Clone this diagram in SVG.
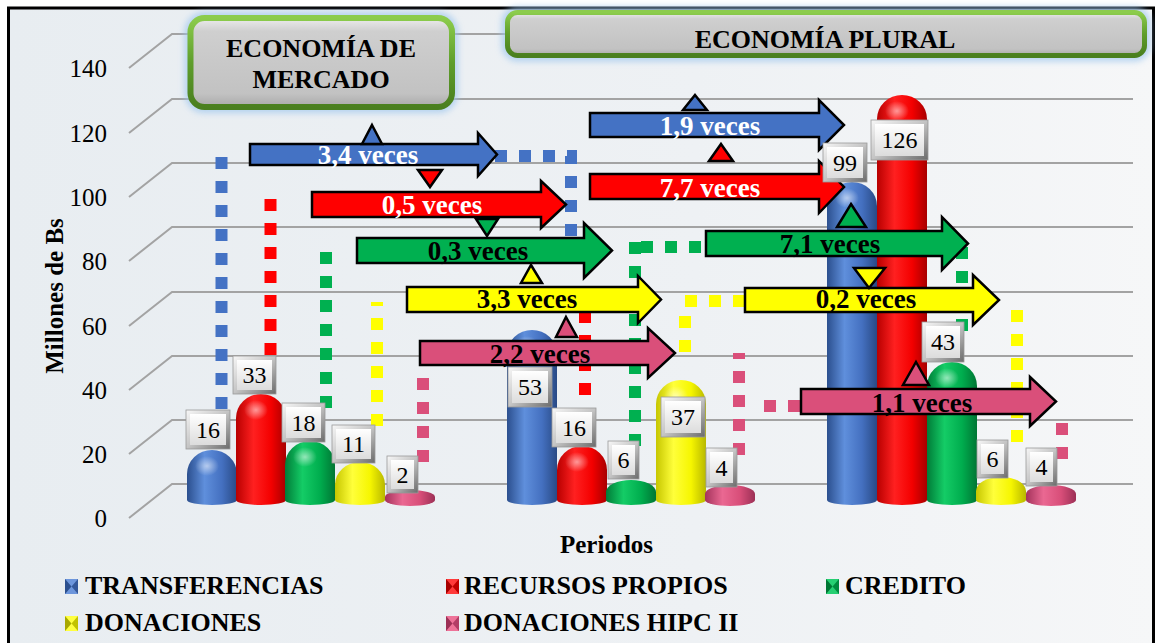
<svg xmlns="http://www.w3.org/2000/svg" width="1160" height="643" viewBox="0 0 1160 643">
<defs>
<linearGradient id="bg" x1="0" y1="0" x2="1" y2="0"><stop offset="0" stop-color="#e8edf1"/><stop offset="0.6" stop-color="#eef1f4"/><stop offset="1" stop-color="#f6f7f8"/></linearGradient>
<linearGradient id="gBlue" x1="0" y1="0" x2="1" y2="0"><stop offset="0" stop-color="#2b4f8e"/><stop offset="0.35" stop-color="#5f8fdc"/><stop offset="0.7" stop-color="#4470c0"/><stop offset="1" stop-color="#294a85"/></linearGradient>
<linearGradient id="gRed" x1="0" y1="0" x2="1" y2="0"><stop offset="0" stop-color="#b80000"/><stop offset="0.35" stop-color="#ff2020"/><stop offset="0.7" stop-color="#f40000"/><stop offset="1" stop-color="#a80000"/></linearGradient>
<linearGradient id="gGreen" x1="0" y1="0" x2="1" y2="0"><stop offset="0" stop-color="#007c38"/><stop offset="0.35" stop-color="#14cc66"/><stop offset="0.7" stop-color="#00ad4e"/><stop offset="1" stop-color="#007634"/></linearGradient>
<linearGradient id="gYellow" x1="0" y1="0" x2="1" y2="0"><stop offset="0" stop-color="#c6c600"/><stop offset="0.35" stop-color="#ffff3a"/><stop offset="0.7" stop-color="#f6f600"/><stop offset="1" stop-color="#b8b800"/></linearGradient>
<linearGradient id="gPink" x1="0" y1="0" x2="1" y2="0"><stop offset="0" stop-color="#a4335c"/><stop offset="0.35" stop-color="#ea6892"/><stop offset="0.7" stop-color="#d84e79"/><stop offset="1" stop-color="#9c3056"/></linearGradient>
<radialGradient id="hl"><stop offset="0" stop-color="#ffffff" stop-opacity="0.55"/><stop offset="1" stop-color="#ffffff" stop-opacity="0"/></radialGradient>
<linearGradient id="bevel" x1="0" y1="0" x2="1" y2="1"><stop offset="0" stop-color="#f7f7f7"/><stop offset="0.5" stop-color="#c4c4c4"/><stop offset="1" stop-color="#6a6a6a"/></linearGradient>
<linearGradient id="face" x1="0" y1="0" x2="0" y2="1"><stop offset="0" stop-color="#ffffff"/><stop offset="1" stop-color="#dcdcdc"/></linearGradient>
<linearGradient id="titleFill" x1="0" y1="0" x2="0" y2="1"><stop offset="0" stop-color="#ececec"/><stop offset="0.15" stop-color="#cfcfcf"/><stop offset="0.85" stop-color="#c2c2c2"/><stop offset="1" stop-color="#a9a9a9"/></linearGradient>
<linearGradient id="titleStroke" x1="0" y1="0" x2="0" y2="1"><stop offset="0" stop-color="#8ccc4c"/><stop offset="0.5" stop-color="#5f9e2c"/><stop offset="1" stop-color="#4a7f1f"/></linearGradient>
<filter id="glow" x="-10%" y="-30%" width="120%" height="160%"><feGaussianBlur stdDeviation="3"/></filter>
</defs>
<style>
.grid{stroke:#a3a3a3;stroke-width:2;fill:none}
.ytick{font-family:'Liberation Serif',serif;font-size:25px;fill:#000;text-anchor:end}
.axt{font-family:'Liberation Serif',serif;font-size:25px;font-weight:bold;fill:#000;text-anchor:middle}
.dot{fill:none;stroke-width:12;stroke-dasharray:12 12}
.dB{stroke:#4472c4}.dR{stroke:#ff0000}.dG{stroke:#00b050}.dY{stroke:#ffff00}.dP{stroke:#da4f7a}
.arr{stroke:#000;stroke-width:2.5;stroke-linejoin:miter}
.tri{stroke:#000;stroke-width:2.5;stroke-linejoin:miter}
.fB{fill:#4472c4}.fR{fill:#ff0000}.fG{fill:#00b050}.fY{fill:#ffff00}.fP{fill:#da4f7a}
.av{font-family:'Liberation Serif',serif;font-size:27px;font-weight:bold;text-anchor:middle}
.w{fill:#ffffff}.k{fill:#000000}
.lb{fill:url(#bevel);stroke:#9a9a9a;stroke-width:0.8}
.lf{fill:url(#face)}
.lt{font-family:'Liberation Serif',serif;font-size:24px;fill:#000;text-anchor:middle}
.ttl{font-family:'Liberation Serif',serif;font-size:26px;font-weight:bold;fill:#000;text-anchor:middle}
.leg{font-family:'Liberation Serif',serif;font-size:26px;font-weight:bold;fill:#000}
.hl{fill:url(#hl)}
</style>

<rect x="0" y="0" width="1160" height="643" fill="#ffffff"/>
<rect id="frame" x="8.5" y="8" width="1145" height="650" fill="url(#bg)" stroke="#000" stroke-width="3"/>

<g id="gridlines">
<path class="grid" d="M129,68 L172,34 H1133"/>
<path class="grid" d="M129,133 L172,99 H1133"/>
<path class="grid" d="M129,197 L172,163 H1133"/>
<path class="grid" d="M129,261 L172,227 H1133"/>
<path class="grid" d="M129,326 L172,292 H1133"/>
<path class="grid" d="M129,390 L172,356 H1133"/>
<path class="grid" d="M129,454 L172,420 H1133"/>
<path class="grid" d="M129,518 L172,484 H1133"/>
</g>

<g id="y-axis">
<text class="ytick" x="107" y="77">140</text>
<text class="ytick" x="107" y="142">120</text>
<text class="ytick" x="107" y="206">100</text>
<text class="ytick" x="107" y="270">80</text>
<text class="ytick" x="107" y="335">60</text>
<text class="ytick" x="107" y="399">40</text>
<text class="ytick" x="107" y="463">20</text>
<text class="ytick" x="107" y="527">0</text>
<text class="axt" transform="translate(63,296) rotate(-90)">Millones de Bs</text>
</g>

<g id="connectors">
<line class="dot dB" x1="221.5" y1="157" x2="221.5" y2="412"/>
<line class="dot dR" x1="270.5" y1="199" x2="270.5" y2="355"/>
<line class="dot dG" x1="326" y1="252" x2="326" y2="409"/>
<line class="dot dY" x1="377" y1="302" x2="377" y2="427" stroke-dashoffset="8"/>
<line class="dot dP" x1="423" y1="378" x2="423" y2="462"/>
<path class="dot dB" d="M495,156 H571 V236"/>
<line class="dot dR" x1="585" y1="311" x2="585" y2="396"/>
<line class="dot dG" x1="641" y1="247" x2="701" y2="247"/>
<line class="dot dG" x1="635" y1="242" x2="635" y2="447"/>
<line class="dot dY" x1="745" y1="301" x2="679" y2="301"/>
<line class="dot dY" x1="685" y1="316" x2="685" y2="353"/>
<line class="dot dP" x1="739" y1="353" x2="739" y2="457" stroke-dashoffset="6"/>
<line class="dot dP" x1="764" y1="406" x2="801" y2="406"/>
<line class="dot dG" x1="962" y1="247" x2="962" y2="332"/>
<line class="dot dY" x1="1017" y1="310" x2="1017" y2="444"/>
<line class="dot dP" x1="1062" y1="423" x2="1062" y2="459"/>
</g>

<g id="bars-mercado">
<path fill="url(#gBlue)" d="M187,500 V474 A25 24 0 0 1 237,474 V500 A25 5 0 0 1 187,500 Z"/>
<ellipse class="hl" cx="207" cy="466" rx="12" ry="10"/>
<path fill="url(#gRed)" d="M236,500 V418 A25 24 0 0 1 286,418 V500 A25 5 0 0 1 236,500 Z"/>
<ellipse class="hl" cx="256" cy="410" rx="12" ry="10"/>
<path fill="url(#gGreen)" d="M285,500 V465 A25 24 0 0 1 335,465 V500 A25 5 0 0 1 285,500 Z"/>
<ellipse class="hl" cx="305" cy="457" rx="12" ry="10"/>
<path fill="url(#gYellow)" d="M335,500 V484.8 A25 22.8 0 0 1 385,484.8 V500 A25 5 0 0 1 335,500 Z"/>
<path fill="url(#gPink)" d="M385,500 V497 A25 7 0 0 1 435,497 V500 A25 6 0 0 1 385,500 Z"/>
</g>
<g id="bars-plural-1">
<path fill="url(#gBlue)" d="M507,500 V354 A25 24 0 0 1 557,354 V500 A25 5 0 0 1 507,500 Z"/>
<ellipse class="hl" cx="527" cy="346" rx="12" ry="10"/>
<path fill="url(#gRed)" d="M557,500 V470 A25 24 0 0 1 607,470 V500 A25 5 0 0 1 557,500 Z"/>
<ellipse class="hl" cx="577" cy="462" rx="12" ry="10"/>
<path fill="url(#gGreen)" d="M606,500 V492 A25 12 0 0 1 656,492 V500 A25 5 0 0 1 606,500 Z"/>
<path fill="url(#gYellow)" d="M656,500 V404 A25 24 0 0 1 706,404 V500 A25 5 0 0 1 656,500 Z"/>
<ellipse class="hl" cx="676" cy="396" rx="12" ry="10"/>
<path fill="url(#gPink)" d="M705,500 V494 A25 9 0 0 1 755,494 V500 A25 6 0 0 1 705,500 Z"/>
</g>
<g id="bars-plural-2">
<path fill="url(#gBlue)" d="M827,500 V206 A25 24 0 0 1 877,206 V500 A25 5 0 0 1 827,500 Z"/>
<ellipse class="hl" cx="847" cy="198" rx="12" ry="10"/>
<path fill="url(#gRed)" d="M877,500 V119 A25 24 0 0 1 927,119 V500 A25 5 0 0 1 877,500 Z"/>
<ellipse class="hl" cx="897" cy="111" rx="12" ry="10"/>
<path fill="url(#gGreen)" d="M927,500 V386 A25 24 0 0 1 977,386 V500 A25 5 0 0 1 927,500 Z"/>
<ellipse class="hl" cx="947" cy="378" rx="12" ry="10"/>
<path fill="url(#gYellow)" d="M976,500 V491 A25 14 0 0 1 1026,491 V500 A25 5 0 0 1 976,500 Z"/>
<path fill="url(#gPink)" d="M1026,500 V494 A25 9 0 0 1 1076,494 V500 A25 6 0 0 1 1026,500 Z"/>
</g>

<g id="arrow-transferencias-1">
<path class="arr fB" d="M250,144 H478 V133 L497,154.5 L478,176 V165 H250 Z"/>
<text class="av w" x="368" y="164">3,4 veces</text>
<polygon class="tri fB" points="372,125 382,144 362,144"/>
</g>
<g id="arrow-recursos-1">
<path class="arr fR" d="M312,192 H541 V181 L566,204.5 L541,228 V217 H312 Z"/>
<text class="av w" x="432" y="214">0,5 veces</text>
<polygon class="tri fR" points="418,170 442,170 430,187"/>
</g>
<g id="arrow-credito-1">
<path class="arr fG" d="M357,238 H584 V223 L612,250.5 L584,278 V263 H357 Z"/>
<text class="av k" x="478" y="260">0,3 veces</text>
<polygon class="tri fG" points="476,219 498,219 487,236"/>
</g>
<g id="arrow-donaciones-1">
<path class="arr fY" d="M407,287 H638 V276 L661,299.5 L638,323 V312 H407 Z"/>
<text class="av k" x="527" y="308">3,3 veces</text>
<polygon class="tri fY" points="531,265 542,283 521,283"/>
</g>
<g id="arrow-hipc-1">
<path class="arr fP" d="M420,341 H648 V328 L675,353 L648,378 V365 H420 Z"/>
<text class="av k" x="540" y="363">2,2 veces</text>
<polygon class="tri fP" points="566,317 577,337 556,337"/>
</g>
<g id="arrow-transferencias-2">
<path class="arr fB" d="M590,113 H819 V100 L844,125 L819,150 V137 H590 Z"/>
<text class="av w" x="710" y="135">1,9 veces</text>
<polygon class="tri fB" points="695,95 707,110 683,110"/>
</g>
<g id="arrow-recursos-2">
<path class="arr fR" d="M590,174 H819 V161 L844,187 L819,213 V199 H590 Z"/>
<text class="av w" x="710" y="197">7,7 veces</text>
<polygon class="tri fR" points="721,144 733,161 709,161"/>
</g>
<g id="arrow-credito-2">
<path class="arr fG" d="M706,231 H942 V217 L968,243.5 L942,270 V256 H706 Z"/>
<text class="av k" x="830" y="253">7,1 veces</text>
<polygon class="tri fG" points="851,204 866,227 837,227"/>
</g>
<g id="arrow-donaciones-2">
<path class="arr fY" d="M745,288 H973 V275 L999,300 L973,325 V312 H745 Z"/>
<text class="av k" x="866" y="308">0,2 veces</text>
<polygon class="tri fY" points="854,268 885,268 869,288"/>
</g>
<g id="arrow-hipc-2">
<path class="arr fP" d="M801,389 H1030 V377 L1056,401.5 L1030,426 V414 H801 Z"/>
<text class="av k" x="922" y="412">1,1 veces</text>
<polygon class="tri fP" points="916,362 929,385 903,385"/>
</g>

<g id="value-labels">
<g><rect class="lb" x="186" y="410" width="44" height="39"/><rect class="lf" x="190" y="414" width="36" height="31"/><text class="lt" x="208" y="438">16</text></g>
<g><rect class="lb" x="233" y="356" width="43" height="38"/><rect class="lf" x="237" y="360" width="35" height="30"/><text class="lt" x="254.5" y="383">33</text></g>
<g><rect class="lb" x="282" y="403" width="43" height="39"/><rect class="lf" x="286" y="407" width="35" height="31"/><text class="lt" x="303.5" y="431">18</text></g>
<g><rect class="lb" x="332" y="425" width="43" height="38"/><rect class="lf" x="336" y="429" width="35" height="30"/><text class="lt" x="353.5" y="452">11</text></g>
<g><rect class="lb" x="387" y="456" width="31" height="37"/><rect class="lf" x="391" y="460" width="23" height="29"/><text class="lt" x="402.5" y="483">2</text></g>
<g><rect class="lb" x="508" y="367" width="44" height="40"/><rect class="lf" x="512" y="371" width="36" height="32"/><text class="lt" x="530" y="395">53</text></g>
<g><rect class="lb" x="552" y="408" width="44" height="39"/><rect class="lf" x="556" y="412" width="36" height="31"/><text class="lt" x="574" y="436">16</text></g>
<g><rect class="lb" x="608" y="441" width="31" height="38"/><rect class="lf" x="612" y="445" width="23" height="30"/><text class="lt" x="623.5" y="468">6</text></g>
<g><rect class="lb" x="661" y="397" width="44" height="40"/><rect class="lf" x="665" y="401" width="36" height="32"/><text class="lt" x="683" y="425">37</text></g>
<g><rect class="lb" x="706" y="448" width="31" height="39"/><rect class="lf" x="710" y="452" width="23" height="31"/><text class="lt" x="721.5" y="476">4</text></g>
<g><rect class="lb" x="823" y="143" width="44" height="39"/><rect class="lf" x="827" y="147" width="36" height="31"/><text class="lt" x="845" y="171">99</text></g>
<g><rect class="lb" x="871" y="120" width="57" height="40"/><rect class="lf" x="875" y="124" width="49" height="32"/><text class="lt" x="899.5" y="148">126</text></g>
<g><rect class="lb" x="922" y="322" width="42" height="40"/><rect class="lf" x="926" y="326" width="34" height="32"/><text class="lt" x="943" y="350">43</text></g>
<g><rect class="lb" x="977" y="440" width="31" height="38"/><rect class="lf" x="981" y="444" width="23" height="30"/><text class="lt" x="992.5" y="467">6</text></g>
<g><rect class="lb" x="1026" y="448" width="31" height="38"/><rect class="lf" x="1030" y="452" width="23" height="30"/><text class="lt" x="1041.5" y="475">4</text></g>
</g>

<g id="title-mercado">
<rect x="190.5" y="18" width="261.5" height="89" rx="14" fill="none" stroke="#9dc6ee" stroke-width="12" opacity="0.7" filter="url(#glow)"/>
<rect x="190.5" y="18" width="261.5" height="89" rx="14" fill="url(#titleFill)" stroke="url(#titleStroke)" stroke-width="6"/>
<text class="ttl" x="321" y="57">ECONOMÍA DE</text>
<text class="ttl" x="321" y="88">MERCADO</text>
</g>
<g id="title-plural">
<rect x="507.5" y="12.5" width="637" height="43" rx="10" fill="none" stroke="#9dc6ee" stroke-width="12" opacity="0.7" filter="url(#glow)"/>
<rect x="507.5" y="12.5" width="637" height="43" rx="10" fill="url(#titleFill)" stroke="url(#titleStroke)" stroke-width="5"/>
<text class="ttl" x="825" y="48">ECONOMÍA PLURAL</text>
</g>

<text class="axt" x="606.5" y="553" font-size="26">Periodos</text>

<g id="legend">
<g><rect x="65" y="579" width="13" height="15" fill="#6d96dc"/><polygon points="65,579 71.5,586.5 65,594" fill="#2b4f8e"/><polygon points="78,579 71.5,586.5 78,594" fill="#34589a"/><text class="leg" x="85" y="594">TRANSFERENCIAS</text></g>
<g><rect x="446" y="579" width="13" height="15" fill="#ff3a3a"/><polygon points="446,579 452.5,586.5 446,594" fill="#a80000"/><polygon points="459,579 452.5,586.5 459,594" fill="#c00000"/><text class="leg" x="464" y="594">RECURSOS PROPIOS</text></g>
<g><rect x="826" y="579" width="13" height="15" fill="#26cf72"/><polygon points="826,579 832.5,586.5 826,594" fill="#007634"/><polygon points="839,579 832.5,586.5 839,594" fill="#008a3e"/><text class="leg" x="845" y="594">CREDITO</text></g>
<g><rect x="65" y="616" width="13" height="15" fill="#ffff40"/><polygon points="65,616 71.5,623.5 65,631" fill="#a8a800"/><polygon points="78,616 71.5,623.5 78,631" fill="#c2c200"/><text class="leg" x="85" y="631">DONACIONES</text></g>
<g><rect x="446" y="616" width="13" height="15" fill="#ee7399"/><polygon points="446,616 452.5,623.5 446,631" fill="#9c3056"/><polygon points="459,616 452.5,623.5 459,631" fill="#b23d66"/><text class="leg" x="464" y="631">DONACIONES HIPC II</text></g>
</g>
</svg>
